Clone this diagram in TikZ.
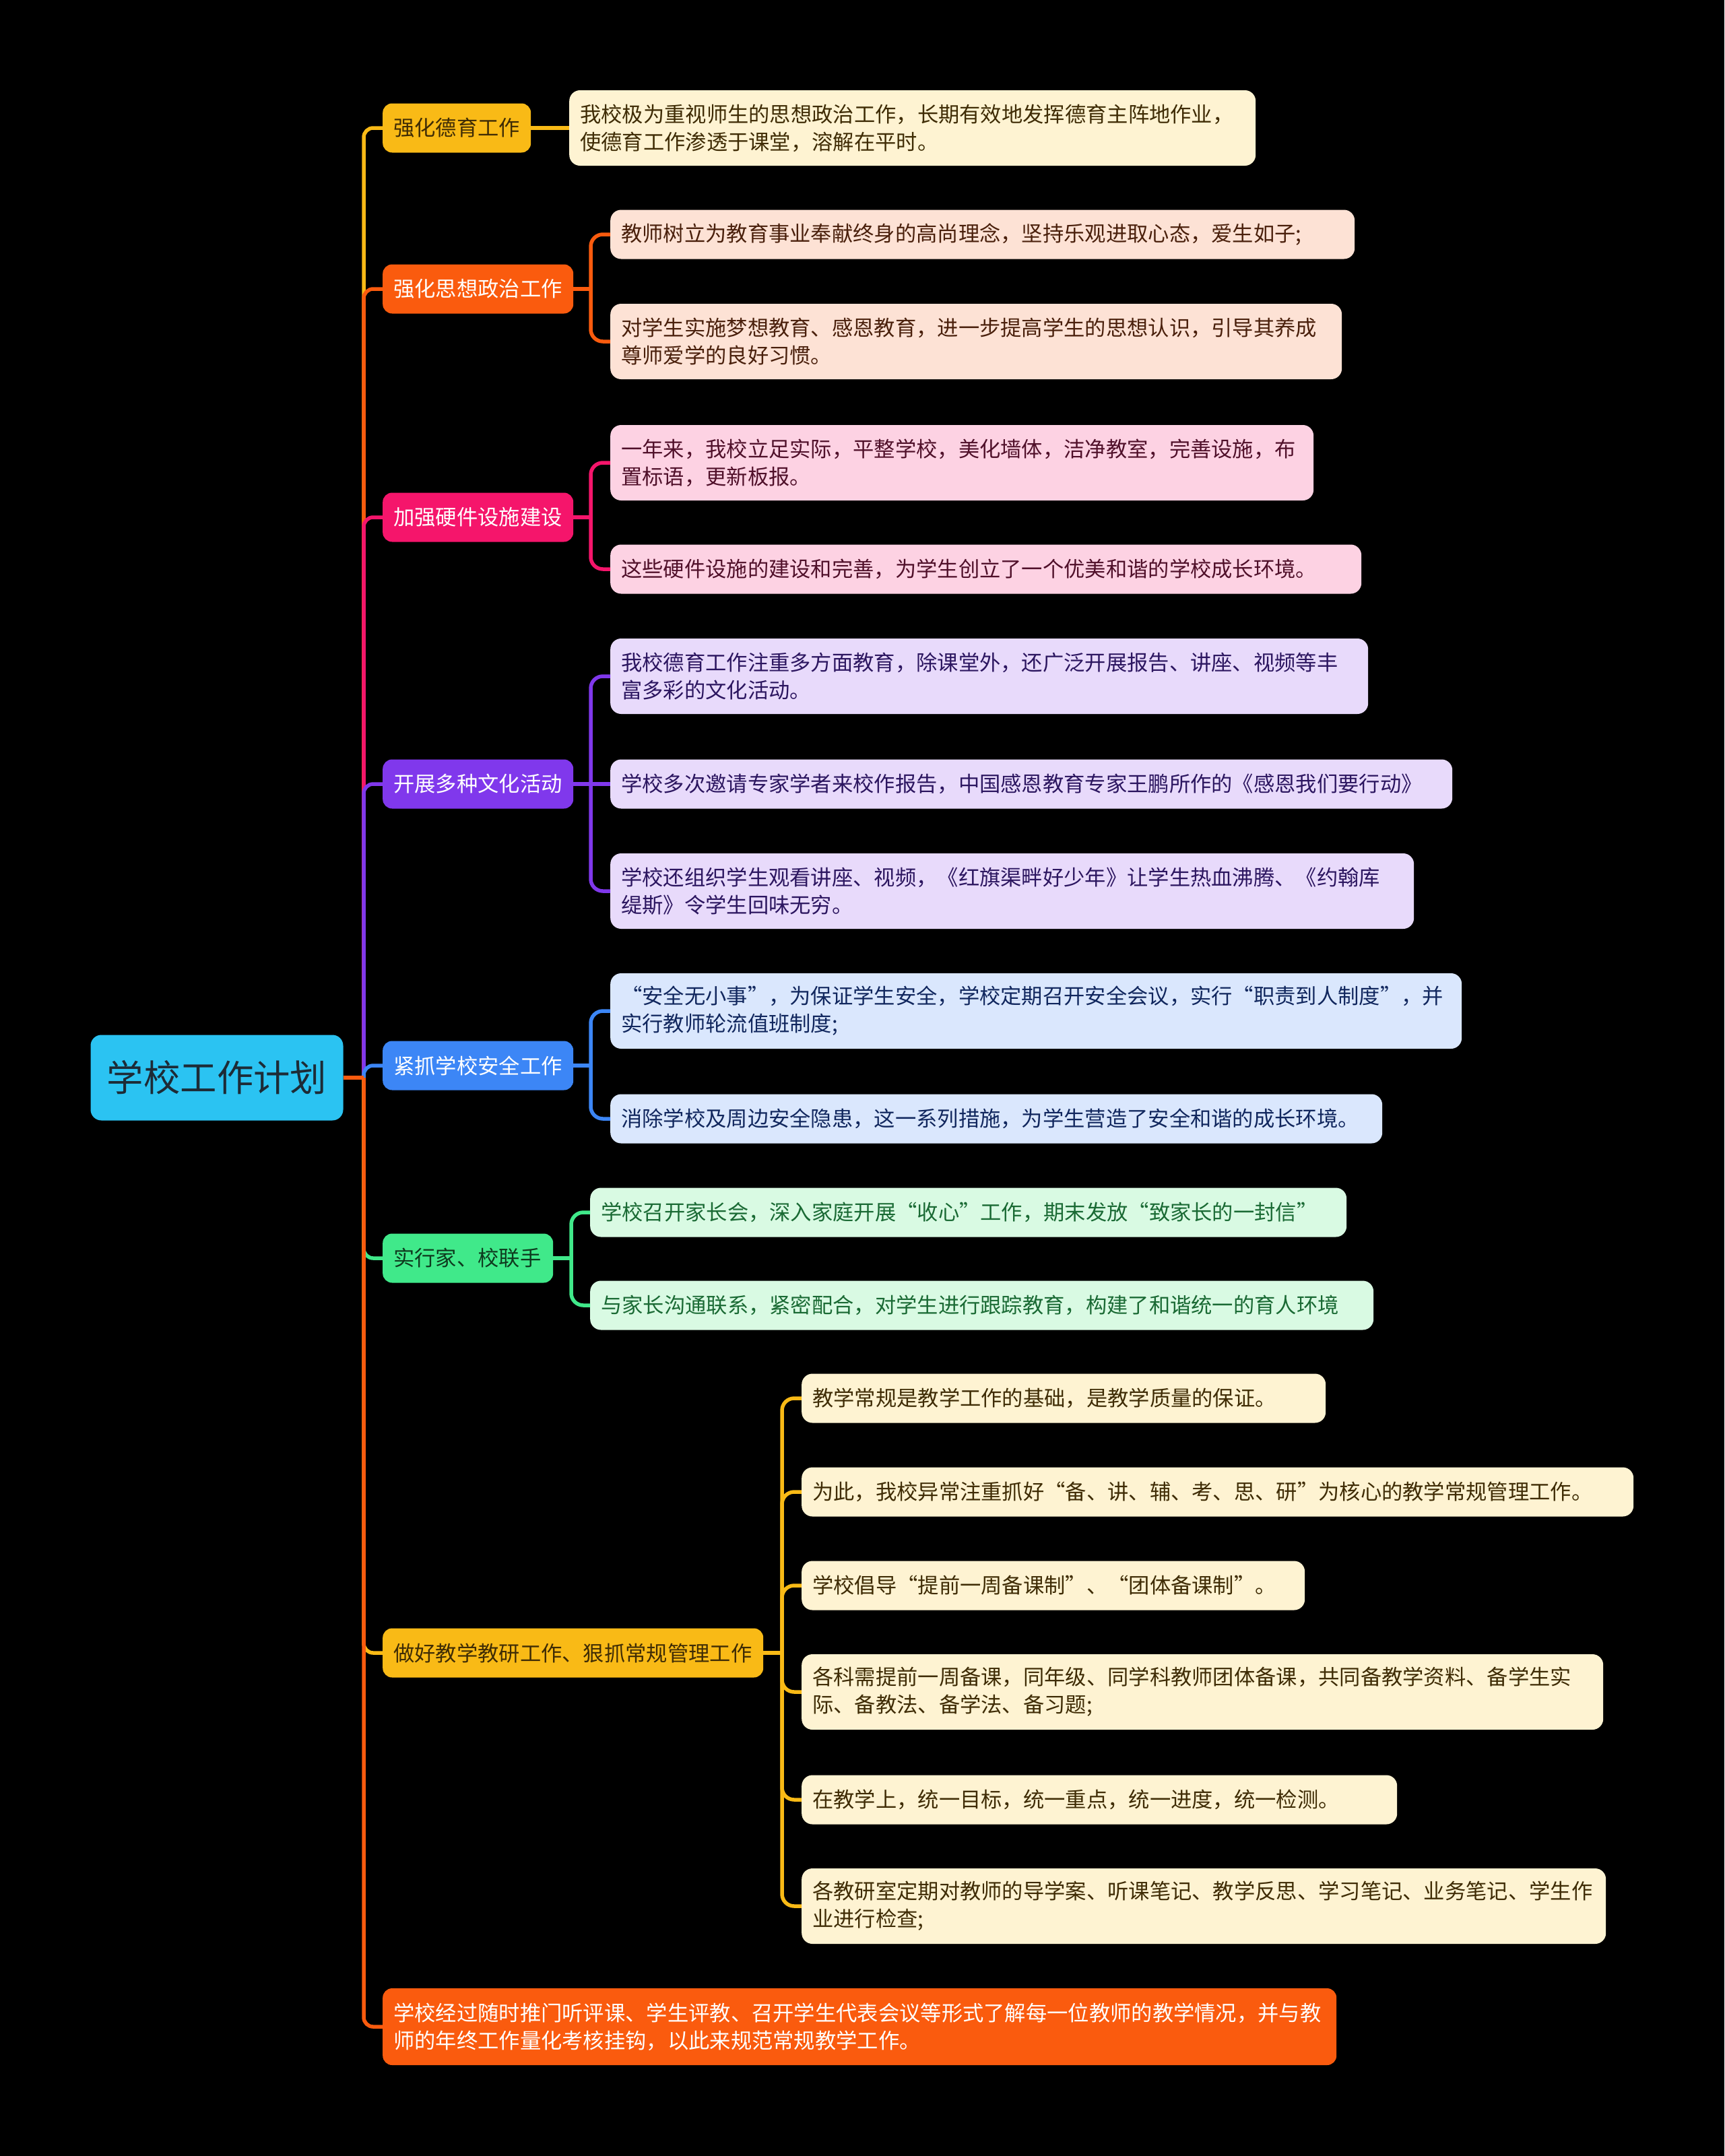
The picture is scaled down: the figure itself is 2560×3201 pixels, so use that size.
\documentclass[tikz,border=0pt]{standalone}
\usepackage{fontspec}
\setmainfont{Noto Sans CJK SC}
\definecolor{cY}{HTML}{F9BA16}
\definecolor{cO}{HTML}{FA5B0E}
\definecolor{cP}{HTML}{F5156B}
\definecolor{cV}{HTML}{8038EC}
\definecolor{cB}{HTML}{3C86F6}
\definecolor{cG}{HTML}{40E98A}
\definecolor{cR}{HTML}{2BC3F2}
\definecolor{fY}{HTML}{FEF3D2}
\definecolor{fO}{HTML}{FDE2D5}
\definecolor{fP}{HTML}{FDD2E3}
\definecolor{fV}{HTML}{E8DAFB}
\definecolor{fB}{HTML}{DAE7FD}
\definecolor{fG}{HTML}{D9FAE3}
\definecolor{tY}{HTML}{3F2C05}
\definecolor{tO}{HTML}{4A200C}
\definecolor{tP}{HTML}{50102A}
\definecolor{tV}{HTML}{2C1660}
\definecolor{tB}{HTML}{11275E}
\definecolor{tG}{HTML}{1A6A34}
\definecolor{tR}{HTML}{1D2B36}
\definecolor{tK}{HTML}{0E3A1E}
\tikzset{
  lone/.style={rounded corners=14pt, anchor=west, inner xsep=16pt, inner ysep=0pt,
    minimum height=73pt, align=left, font=\fontsize{31.3}{41}\selectfont},
  ltwo/.style={rounded corners=16pt, anchor=west, inner xsep=16pt, inner ysep=0pt,
    align=left, font=\fontsize{31.3}{41}\selectfont},
  oneline/.style={minimum height=73pt},
  twoline/.style={minimum height=112pt},
  con/.style={line width=5.5pt, rounded corners=18pt},
  trk/.style={line width=5.5pt, rounded corners=14pt},
  rootbox/.style={rounded corners=16pt, fill=cR, text=tR, minimum width=375pt,
    minimum height=127pt, inner sep=0pt, font=\fontsize{54.4}{62}\selectfont},
}
\begin{document}
\begin{tikzpicture}[x=1pt,y=-1pt]
\fill[black] (0,0) rectangle (2560,3201);
\useasboundingbox (0,0) rectangle (2560,3201);

% root
\node[rootbox] (root) at (322,1600) {学校工作计划};

% level 1
\node[lone, fill=cY, text=tY, text width=188pt] (n1) at (568,190) {强化德育工作};
\node[lone, fill=cO, text=white, text width=251pt] (n2) at (568,429) {强化思想政治工作};
\node[lone, fill=cP, text=white, text width=251pt] (n3) at (568,768) {加强硬件设施建设};
\node[lone, fill=cV, text=white, text width=251pt] (n4) at (568,1164) {开展多种文化活动};
\node[lone, fill=cB, text=white, text width=251pt] (n5) at (568,1582) {紧抓学校安全工作};
\node[lone, fill=cG, text=tK, text width=221pt] (n6) at (568,1868) {实行家、校联手};
\node[lone, fill=cY, text=tY, text width=533pt] (n7) at (568,2454) {做好教学教研工作、狠抓常规管理工作};
\node[lone, fill=cO, text=white, text width=1384pt, minimum height=114pt] (n8) at (568,3009)
  {学校经过随时推门听评课、学生评教、召开学生代表会议等形式了解每一位教师的教学情况，并与教\\师的年终工作量化考核挂钩，以此来规范常规教学工作。};

% level 2
\node[ltwo, twoline, fill=fY, text=tY, text width=987pt] (b1c) at (845,190)
  {我校极为重视师生的思想政治工作，长期有效地发挥德育主阵地作业，\\使德育工作渗透于课堂，溶解在平时。};

\node[ltwo, oneline, fill=fO, text=tO, text width=1073pt] (b2a) at (906,348)
  {教师树立为教育事业奉献终身的高尚理念，坚持乐观进取心态，爱生如子;};
\node[ltwo, twoline, fill=fO, text=tO, text width=1054pt] (b2b) at (906,507)
  {对学生实施梦想教育、感恩教育，进一步提高学生的思想认识，引导其养成\\尊师爱学的良好习惯。};

\node[ltwo, twoline, fill=fP, text=tP, text width=1012pt] (b3a) at (906,687)
  {一年来，我校立足实际，平整学校，美化墙体，洁净教室，完善设施，布\\置标语，更新板报。};
\node[ltwo, oneline, fill=fP, text=tP, text width=1083pt] (b3b) at (906,845)
  {这些硬件设施的建设和完善，为学生创立了一个优美和谐的学校成长环境。};

\node[ltwo, twoline, fill=fV, text=tV, text width=1093pt] (b4a) at (906,1004)
  {我校德育工作注重多方面教育，除课堂外，还广泛开展报告、讲座、视频等丰\\富多彩的文化活动。};
\node[ltwo, oneline, fill=fV, text=tV, text width=1218pt] (b4b) at (906,1164)
  {学校多次邀请专家学者来校作报告，中国感恩教育专家王鹏所作的《感恩我们要行动》};
\node[ltwo, twoline, fill=fV, text=tV, text width=1161pt] (b4c) at (906,1323)
  {学校还组织学生观看讲座、视频，《红旗渠畔好少年》让学生热血沸腾、《约翰库\\缇斯》令学生回味无穷。};

\node[ltwo, twoline, fill=fB, text=tB, text width=1232pt] (b5a) at (906,1501)
  {“安全无小事”，为保证学生安全，学校定期召开安全会议，实行“职责到人制度”，并\\实行教师轮流值班制度;};
\node[ltwo, oneline, fill=fB, text=tB, text width=1114pt] (b5b) at (906,1661)
  {消除学校及周边安全隐患，这一系列措施，为学生营造了安全和谐的成长环境。};

\node[ltwo, oneline, fill=fG, text=tG, text width=1091pt] (b6a) at (876,1800)
  {学校召开家长会，深入家庭开展“收心”工作，期末发放“致家长的一封信”};
\node[ltwo, oneline, fill=fG, text=tG, text width=1131pt] (b6b) at (876,1938)
  {与家长沟通联系，紧密配合，对学生进行跟踪教育，构建了和谐统一的育人环境};

\node[ltwo, oneline, fill=fY, text=tY, text width=746pt] (b7a) at (1190,2076)
  {教学常规是教学工作的基础，是教学质量的保证。};
\node[ltwo, oneline, fill=fY, text=tY, text width=1203pt] (b7b) at (1190,2215)
  {为此，我校异常注重抓好“备、讲、辅、考、思、研”为核心的教学常规管理工作。};
\node[ltwo, oneline, fill=fY, text=tY, text width=715pt] (b7c) at (1190,2354)
  {学校倡导“提前一周备课制”、“团体备课制”。};
\node[ltwo, twoline, fill=fY, text=tY, text width=1158pt] (b7d) at (1190,2512)
  {各科需提前一周备课，同年级、同学科教师团体备课，共同备教学资料、备学生实\\际、备教法、备学法、备习题;};
\node[ltwo, oneline, fill=fY, text=tY, text width=852pt] (b7e) at (1190,2672)
  {在教学上，统一目标，统一重点，统一进度，统一检测。};
\node[ltwo, twoline, fill=fY, text=tY, text width=1162pt] (b7f) at (1190,2830)
  {各教研室定期对教师的导学案、听课笔记、教学反思、学习笔记、业务笔记、学生作\\业进行检查;};

% trunk connectors
\coordinate (hub) at (540,1600);
\draw[trk, cY] (hub) |- (n1.west);
\draw[trk, cO] (hub) |- (n2.west);
\draw[trk, cP] (hub) |- (n3.west);
\draw[trk, cV] (hub) |- (n4.west);
\draw[trk, cB] (hub) |- (n5.west);
\draw[trk, cG] (hub) |- (n6.west);
\draw[trk, cY] (hub) |- (n7.west);
\draw[trk, cO] (hub) |- (n8.west);
\draw[line width=5.5pt, cO] (root.east) -- (hub);

% bracket coordinates
\coordinate (k2) at (877,429);
\coordinate (k3) at (877,768);
\coordinate (k4) at (877,1164);
\coordinate (k5) at (877,1582);
\coordinate (k6) at (848,1868);
\coordinate (k7) at (1161,2454);

% branch 1
\draw[line width=5.5pt, cY] (n1.east) -- (b1c.west);
% branch 2
\draw[line width=5.5pt, cO] (n2.east) -- (k2);
\draw[con, cO] (k2) |- (b2a.west);
\draw[con, cO] (k2) |- (b2b.west);
% branch 3
\draw[line width=5.5pt, cP] (n3.east) -- (k3);
\draw[con, cP] (k3) |- (b3a.west);
\draw[con, cP] (k3) |- (b3b.west);
% branch 4
\draw[line width=5.5pt, cV] (n4.east) -- (k4);
\draw[con, cV] (k4) |- (b4a.west);
\draw[line width=5.5pt, cV] (k4) -- (b4b.west);
\draw[con, cV] (k4) |- (b4c.west);
% branch 5
\draw[line width=5.5pt, cB] (n5.east) -- (k5);
\draw[con, cB] (k5) |- (b5a.west);
\draw[con, cB] (k5) |- (b5b.west);
% branch 6
\draw[line width=5.5pt, cG] (n6.east) -- (k6);
\draw[con, cG] (k6) |- (b6a.west);
\draw[con, cG] (k6) |- (b6b.west);
% branch 7
\draw[line width=5.5pt, cY] (n7.east) -- (k7);
\draw[con, cY] (k7) |- (b7a.west);
\draw[con, cY] (k7) |- (b7b.west);
\draw[con, cY] (k7) |- (b7c.west);
\draw[con, cY] (k7) |- (b7d.west);
\draw[con, cY] (k7) |- (b7e.west);
\draw[con, cY] (k7) |- (b7f.west);
\end{tikzpicture}
\end{document}
